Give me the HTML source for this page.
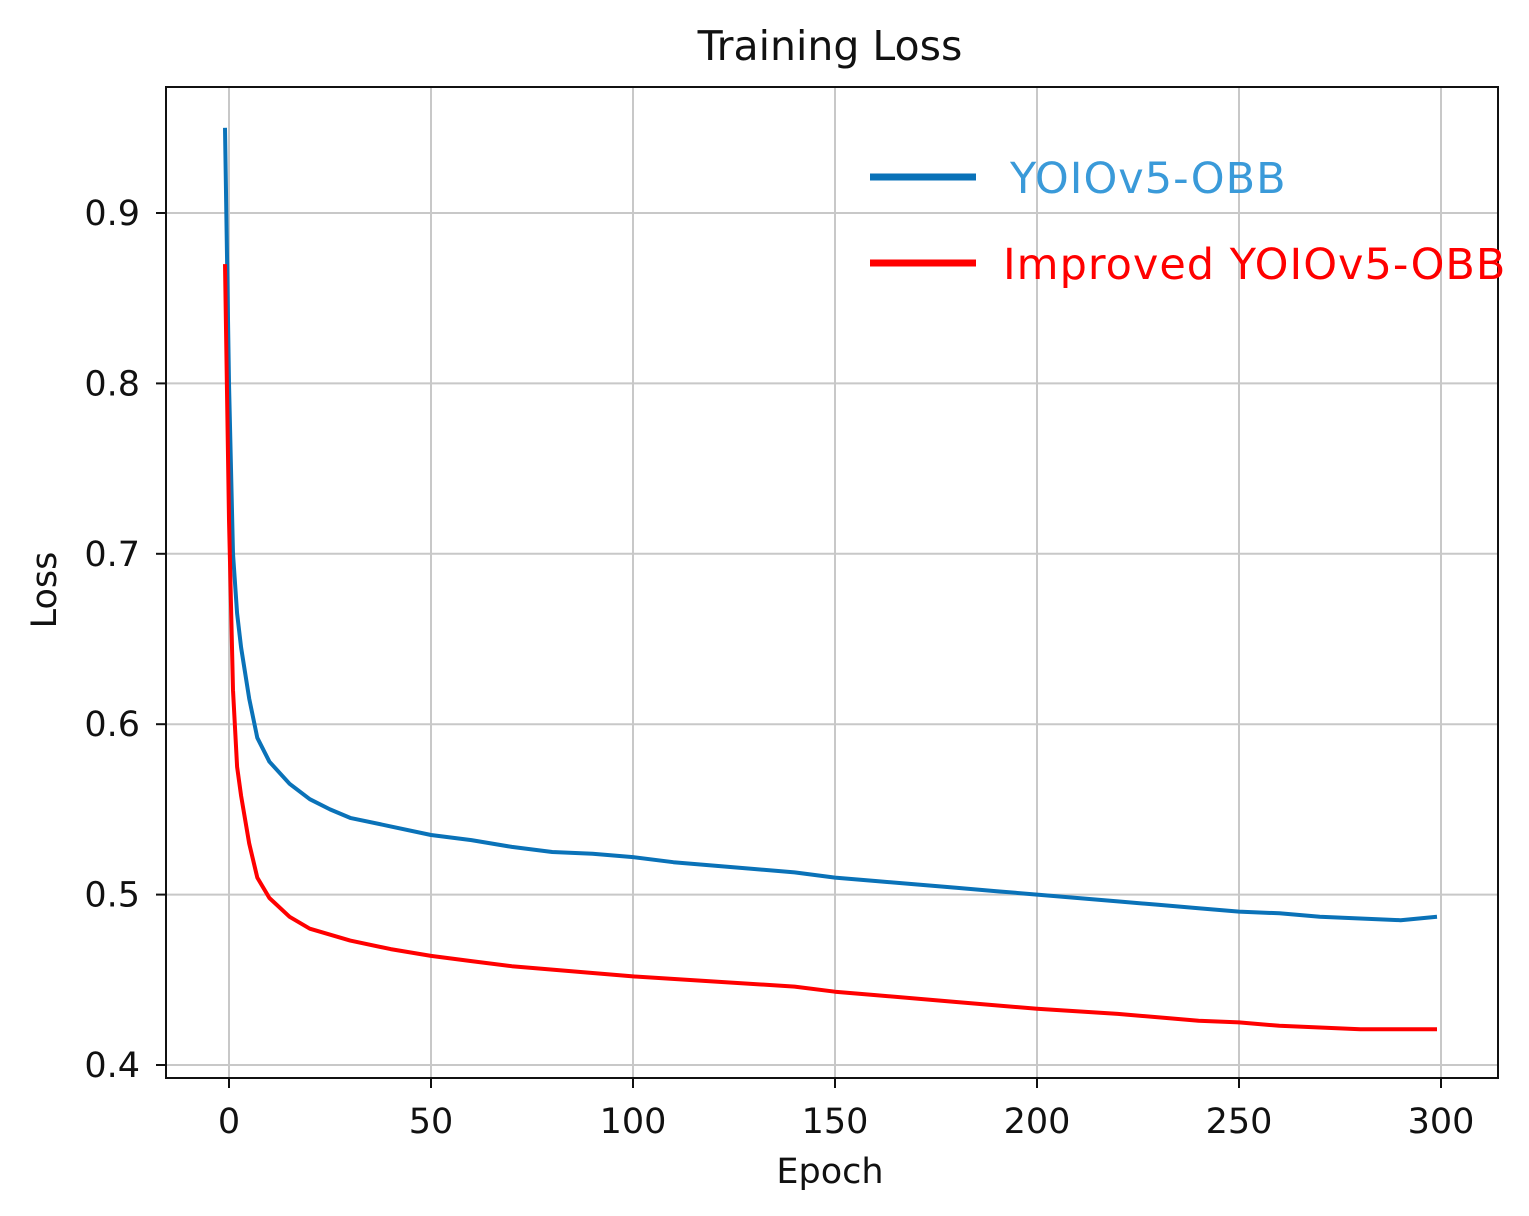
<!DOCTYPE html>
<html><head><meta charset="utf-8"><style>
body{margin:0;background:#fff;}
svg{display:block;font-family:"DejaVu Sans","Liberation Sans",sans-serif;}
</style></head><body>
<svg id="chart" width="1529" height="1216">
<text x="830" y="60" font-size="41" text-anchor="middle" fill="#111">Training Loss</text>
<g id="grid"></g>
<g id="ticks"></g>
<g id="series"></g>
<rect x="166" y="87" width="1332" height="991" fill="none" stroke="#111" stroke-width="2"/>
<text x="830" y="1183" font-size="35" text-anchor="middle" fill="#111">Epoch</text>
<text transform="translate(56,590) rotate(-90)" font-size="35" text-anchor="middle" fill="#111">Loss</text>
<g>
<line x1="870" y1="177" x2="976" y2="177" stroke="#0a72b8" stroke-width="7"/>
<text x="1010" y="193" font-size="43" letter-spacing="1" fill="#3a9ad9">YOIOv5-OBB</text>
<line x1="870" y1="263" x2="976" y2="263" stroke="#ff0000" stroke-width="7"/>
<text x="1003" y="279" font-size="43" letter-spacing="1" fill="#ff0000">Improved YOIOv5-OBB</text>
</g>
</svg>
<script>
const xTicks=[0,50,100,150,200,250,300];
const yTicks=[0.4,0.5,0.6,0.7,0.8,0.9];
const yTickLabels=["0.4","0.5","0.6","0.7","0.8","0.9"];
const blueEpochs=[-1,0,1,2,3,5,7,10,15,20,25,30,40,50,60,70,80,90,100,110,120,130,140,150,160,170,180,190,200,210,220,230,240,250,260,270,280,290,299];
const blueLoss=[0.95,0.80,0.70,0.665,0.645,0.615,0.592,0.578,0.565,0.556,0.55,0.545,0.54,0.535,0.532,0.528,0.525,0.524,0.522,0.519,0.517,0.515,0.513,0.51,0.508,0.506,0.504,0.502,0.5,0.498,0.496,0.494,0.492,0.49,0.489,0.487,0.486,0.485,0.487];
const redEpochs=[-1,0,1,2,3,5,7,10,15,20,30,40,50,60,70,80,90,100,120,140,150,160,180,200,220,240,250,260,280,299];
const redLoss=[0.87,0.72,0.62,0.575,0.558,0.53,0.51,0.498,0.487,0.48,0.473,0.468,0.464,0.461,0.458,0.456,0.454,0.452,0.449,0.446,0.443,0.441,0.437,0.433,0.43,0.426,0.425,0.423,0.421,0.421];
const xs=e=>229+e*(1441-229)/300;
const ys=v=>1065-(v-0.4)*1704;
const NS="http://www.w3.org/2000/svg";
const grid=document.getElementById('grid'),ticks=document.getElementById('ticks'),ser=document.getElementById('series');
function mk(tag,attrs,parent){const el=document.createElementNS(NS,tag);for(const k in attrs)el.setAttribute(k,attrs[k]);parent.appendChild(el);return el;}
xTicks.forEach(t=>{
 const x=xs(t);
 const g=mk('line',{x1:x,x2:x,y1:87,y2:1078,stroke:'#c8c8c8','stroke-width':2},grid);
 
 
 const tk=mk('line',{x1:x,x2:x,y1:1078,y2:1088,stroke:'#111','stroke-width':2},ticks);
 
 
 const tx=mk('text',{x:x,y:1133,'font-size':35,'text-anchor':'middle',fill:'#111'},ticks);
 tx.textContent=String(t);
 
 
});
yTicks.forEach((t,i)=>{
 const y=ys(t);
 const g=mk('line',{x1:166,x2:1498,y1:y,y2:y,stroke:'#c8c8c8','stroke-width':2},grid);
 
 
 const tk=mk('line',{x1:156,x2:166,y1:y,y2:y,stroke:'#111','stroke-width':2},ticks);
 
 
 const tx=mk('text',{x:140,y:y+12,'font-size':35,'text-anchor':'end',fill:'#111'},ticks);
 tx.textContent=yTickLabels[i];
 
 
});
function line(ep,vals,color,name){
 const d=ep.map((e,i)=>(i?'L':'M')+xs(e).toFixed(1)+','+ys(vals[i]).toFixed(1)).join('');
 const p=mk('path',{d:d,fill:'none',stroke:color,'stroke-width':4,'stroke-linejoin':'round'},ser);
 
 
}
line(blueEpochs,blueLoss,'#0a72b8','series-yolov5-obb');
line(redEpochs,redLoss,'#ff0000','series-improved-yolov5-obb');
</script>
</body></html>
